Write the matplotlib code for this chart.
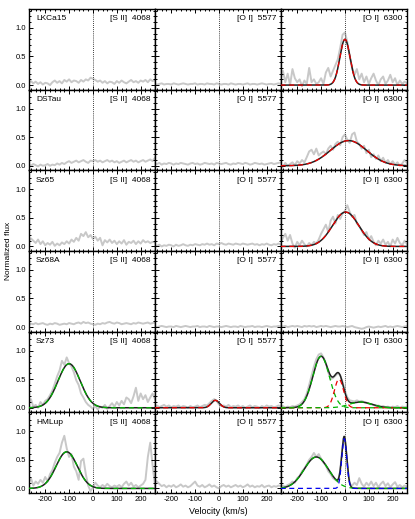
import matplotlib
import matplotlib.pyplot as plt
import numpy as np
from matplotlib.ticker import FormatStrFormatter, MultipleLocator

matplotlib.use("Agg")

plt.rcParams["font.family"] = ["Liberation Sans", "DejaVu Sans"]
plt.rcParams["axes.unicode_minus"] = False

stars = ["LKCa15", "DSTau", "Sz65", "Sz68A", "Sz73", "HMLup"]
lines = ["[S II]  4068", "[O I]  5577", "[O I]  6300"]
velocity = np.arange(-270, 261, 10)  # km/s, sampling of the grey spectra

# grey spectra (normalized flux), one list per star and line
lkca15_s2 = [0.04, 0.07, 0.03, 0.06, 0.02, 0.05, 0.01, 0.04, 0.03, 0.00,
             0.05, 0.08, 0.04, 0.07, 0.03, 0.09, 0.06, 0.10, 0.05, 0.08,
             0.07, 0.04, 0.09, 0.06, 0.10, 0.08, 0.13, 0.11, 0.09, 0.06,
             0.08, 0.04, 0.07, 0.03, 0.06, 0.05, 0.02, 0.07, 0.04, 0.08,
             0.05, 0.03, 0.06, 0.09, 0.05, 0.07, 0.04, 0.08, 0.06, 0.09,
             0.05, 0.10, 0.07, 0.09]
lkca15_o5577 = [0.02, 0.01, 0.02, 0.03, 0.01, 0.02, 0.02, 0.01, 0.03, 0.02,
                0.01, 0.02, 0.03, 0.02, 0.01, 0.02, 0.02, 0.03, 0.01, 0.02,
                0.02, 0.01, 0.03, 0.02, 0.02, 0.01, 0.03, 0.02, 0.01, 0.02,
                0.02, 0.01, 0.03, 0.02, 0.01, 0.02, 0.02, 0.01, 0.02, 0.03,
                0.01, 0.02, 0.02, 0.01, 0.02, 0.03, 0.02, 0.01, 0.02, 0.02,
                0.01, 0.02, 0.03, 0.02]
lkca15_o6300 = [0.10, 0.25, 0.05, 0.20, 0.00, 0.28, 0.12, 0.05, 0.10, -0.02,
                0.08, 0.02, 0.30, 0.05, 0.10, 0.02, 0.05, 0.12, 0.02, 0.22,
                0.30, 0.15, 0.25, 0.35, 0.45, 0.65, 0.88, 0.92, 0.75, 0.50,
                0.30, 0.18, 0.28, 0.10, 0.20, 0.05, 0.15, 0.02, 0.12, 0.20,
                0.08, 0.00, 0.10, 0.15, 0.02, 0.08, 0.18, 0.05, 0.12, 0.00,
                0.08, 0.02, 0.06, 0.03]

dstau_s2 = [0.02, 0.00, 0.03, 0.01, -0.01, 0.02, 0.00, 0.01, 0.03, 0.00,
            0.02, 0.01, 0.04, 0.02, 0.05, 0.03, 0.06, 0.08, 0.05, 0.07,
            0.09, 0.06, 0.08, 0.10, 0.07, 0.05, 0.09, 0.08, 0.10, 0.07,
            0.09, 0.06, 0.08, 0.10, 0.07, 0.09, 0.06, 0.08, 0.05, 0.07,
            0.09, 0.06, 0.08, 0.10, 0.07, 0.09, 0.06, 0.08, 0.10, 0.07,
            0.09, 0.11, 0.08, 0.14]
dstau_o5577 = [0.04, 0.03, 0.05, 0.02, 0.04, 0.03, 0.05, 0.04, 0.02, 0.04,
               0.03, 0.05, 0.04, 0.03, 0.02, 0.04, 0.05, 0.03, 0.04, 0.02,
               0.03, 0.05, 0.04, 0.03, 0.04, 0.02, 0.05, 0.04, 0.03, 0.04,
               0.05, 0.03, 0.02, 0.04, 0.03, 0.05, 0.04, 0.03, 0.05, 0.04,
               0.02, 0.03, 0.05, 0.04, 0.03, 0.04, 0.02, 0.03, 0.04, 0.05,
               0.03, 0.04, 0.05, 0.06]
dstau_o6300 = [0.02, -0.02, 0.05, 0.00, 0.03, 0.06, 0.01, 0.08, 0.04, 0.10,
               0.06, 0.15, 0.25, 0.28, 0.20, 0.30, 0.18, 0.22, 0.25, 0.20,
               0.30, 0.35, 0.28, 0.38, 0.42, 0.36, 0.50, 0.55, 0.45, 0.40,
               0.55, 0.58, 0.42, 0.38, 0.30, 0.35, 0.22, 0.28, 0.15, 0.20,
               0.12, 0.18, 0.08, 0.14, 0.05, 0.10, 0.03, 0.08, 0.02, 0.06,
               0.00, 0.04, 0.10, 0.05]

sz65_s2 = [0.08, 0.14, 0.10, 0.06, 0.12, 0.04, 0.09, 0.02, 0.06, 0.03,
           0.08, 0.01, 0.05, 0.02, 0.07, 0.04, 0.09, 0.05, 0.12, 0.08,
           0.15, 0.10, 0.22, 0.18, 0.25, 0.16, 0.20, 0.13, 0.17, 0.10,
           0.15, 0.02, 0.11, 0.07, 0.12, 0.06, 0.10, 0.04, 0.09, 0.05,
           0.11, 0.03, 0.08, 0.06, 0.10, 0.04, 0.09, 0.05, 0.11, 0.07,
           0.09, 0.06, 0.08, 0.07]
sz65_o5577 = [0.02, 0.01, 0.03, 0.00, 0.02, 0.01, 0.03, 0.02, 0.00, 0.03,
              0.01, 0.02, 0.04, 0.02, 0.01, 0.03, 0.02, 0.04, 0.03, 0.02,
              0.04, 0.03, 0.05, 0.03, 0.04, 0.02, 0.05, 0.04, 0.06, 0.04,
              0.03, 0.05, 0.04, 0.03, 0.05, 0.04, 0.03, 0.05, 0.04, 0.03,
              0.04, 0.05, 0.03, 0.04, 0.02, 0.04, 0.03, 0.05, 0.03, 0.02,
              0.04, 0.03, 0.05, 0.03]
sz65_o6300 = [0.05, 0.15, 0.22, 0.10, 0.20, 0.05, -0.02, 0.08, 0.02, 0.10,
              0.04, 0.00, 0.06, 0.02, 0.08, 0.05, 0.12, 0.22, 0.30, 0.38,
              0.25, 0.45, 0.52, 0.40, 0.55, 0.48, 0.58, 0.62, 0.72, 0.60,
              0.52, 0.55, 0.40, 0.35, 0.28, 0.20, 0.25, 0.12, 0.18, 0.08,
              0.02, 0.10, 0.05, 0.12, 0.03, 0.08, 0.00, 0.12, 0.05, 0.15,
              0.06, 0.02, 0.10, 0.04]

sz68a_s2 = [0.04, 0.06, 0.05, 0.07, 0.05, 0.06, 0.07, 0.05, 0.04, 0.06,
            0.05, 0.07, 0.06, 0.04, 0.05, 0.06, 0.05, 0.07, 0.06, 0.05,
            0.07, 0.08, 0.06, 0.09, 0.07, 0.08, 0.06, 0.05, 0.04, 0.06,
            0.05, 0.07, 0.06, 0.08, 0.09, 0.07, 0.06, 0.08, 0.07, 0.05,
            0.06, 0.07, 0.06, 0.05, 0.07, 0.06, 0.08, 0.07, 0.06, 0.07,
            0.08, 0.06, 0.07, 0.08]
sz68a_o5577 = [0.01, 0.00, 0.01, 0.02, 0.01, 0.00, 0.01, 0.01, 0.00, 0.02,
               0.01, 0.00, 0.01, 0.02, 0.01, 0.00, 0.01, 0.01, 0.02, 0.00,
               0.01, 0.01, 0.00, 0.02, 0.01, 0.00, 0.01, 0.01, 0.00, 0.01,
               0.02, 0.01, 0.00, 0.01, 0.01, 0.00, 0.02, 0.01, 0.00, 0.01,
               0.01, 0.02, 0.00, 0.01, 0.01, 0.00, 0.01, 0.02, 0.01, 0.00,
               0.01, 0.01, 0.02, 0.01]
sz68a_o6300 = [0.02, 0.01, 0.02, 0.00, 0.01, 0.02, 0.01, 0.02, 0.01, 0.00,
               0.02, 0.01, 0.02, 0.01, 0.02, 0.00, 0.01, 0.02, 0.01, 0.02,
               0.01, 0.00, 0.01, 0.02, 0.01, 0.01, 0.02, 0.01, 0.00, 0.01,
               0.02, 0.00, -0.01, -0.02, -0.03, -0.02, 0.00, 0.01, 0.00, -0.01,
               0.00, 0.01, 0.00, 0.01, 0.02, 0.00, 0.01, 0.00, 0.01, 0.02,
               0.01, 0.00, 0.01, 0.02]

sz73_s2 = [0.08, 0.15, 0.02, 0.05, 0.00, 0.10, 0.05, 0.12, 0.15, 0.22,
           0.30, 0.42, 0.55, 0.65, 0.82, 0.75, 0.88, 0.78, 0.72, 0.62,
           0.48, 0.40, 0.25, 0.18, 0.10, 0.05, 0.02, -0.02, 0.03, -0.03,
           0.02, 0.00, 0.05, -0.02, 0.03, 0.08, 0.02, 0.10, 0.04, 0.12,
           0.06, 0.18, 0.15, 0.08, 0.20, 0.35, 0.12, 0.25, 0.15, 0.22,
           0.10, 0.18, 0.25, 0.15]
sz73_o5577 = [0.02, 0.04, 0.01, 0.03, 0.05, 0.02, 0.04, 0.01, 0.03, 0.02,
              0.04, 0.01, 0.03, 0.02, 0.00, 0.03, 0.01, 0.02, 0.04, 0.01,
              0.03, 0.05, 0.04, 0.08, 0.12, 0.15, 0.12, 0.06, 0.03, 0.04,
              0.02, 0.05, 0.01, 0.03, 0.02, 0.04, 0.01, 0.03, 0.00, 0.02,
              0.04, 0.01, 0.03, 0.02, 0.00, 0.03, 0.01, 0.04, 0.02, 0.03,
              0.01, 0.02, 0.04, 0.02]
sz73_o6300 = [0.01, 0.03, 0.00, 0.02, 0.01, 0.03, 0.02, 0.04, 0.06, 0.10,
              0.15, 0.25, 0.40, 0.56, 0.72, 0.85, 0.93, 0.95, 0.88, 0.78,
              0.62, 0.50, 0.52, 0.56, 0.60, 0.57, 0.45, 0.30, 0.18, 0.13,
              0.12, 0.11, 0.13, 0.11, 0.12, 0.10, 0.09, 0.07, 0.06, 0.05,
              0.03, 0.04, 0.02, 0.03, 0.01, 0.02, 0.00, 0.02, 0.01, 0.03,
              0.00, 0.02, 0.01, 0.02]

hmlup_s2 = [0.10, 0.18, 0.05, 0.12, 0.08, 0.15, 0.10, 0.20, 0.12, 0.25,
            0.32, 0.45, 0.55, 0.62, 0.80, 0.92, 0.70, 0.55, 0.60, 0.38,
            0.30, 0.15, 0.48, 0.52, 0.25, 0.05, -0.05, 0.02, 0.10, 0.05,
            0.02, 0.06, 0.03, 0.08, 0.04, 0.02, 0.05, 0.03, 0.06, 0.02,
            0.08, 0.12, 0.05, 0.10, 0.03, 0.06, 0.02, 0.05, 0.08, 0.15,
            0.55, 0.80, 0.40, 0.05]
hmlup_o5577 = [0.15, 0.12, 0.08, 0.04, 0.06, 0.02, 0.05, 0.03, 0.06, 0.02,
               0.04, 0.07, 0.03, 0.05, 0.02, 0.04, 0.08, 0.12, 0.05, 0.03,
               0.06, 0.02, 0.04, 0.07, 0.03, 0.05, 0.02, 0.00, 0.04, 0.06,
               0.03, 0.05, 0.02, 0.04, 0.06, 0.03, 0.05, 0.02, 0.04, 0.07,
               0.03, 0.05, 0.02, 0.04, 0.03, 0.06, 0.02, 0.04, 0.05, 0.02,
               0.04, 0.03, 0.05, 0.04]
hmlup_o6300 = [0.02, 0.05, 0.03, 0.06, 0.08, 0.12, 0.10, 0.18, 0.22, 0.30,
               0.35, 0.42, 0.50, 0.55, 0.62, 0.55, 0.60, 0.52, 0.45, 0.40,
               0.30, 0.25, 0.18, 0.15, 0.12, 0.30, 0.75, 0.85, 0.40, 0.08,
               0.05, 0.10, 0.06, 0.18, 0.08, 0.03, 0.10, 0.05, 0.12, 0.04,
               0.10, 0.02, 0.08, 0.12, 0.04, 0.09, 0.02, 0.07, 0.11, 0.03,
               0.06, 0.02, 0.05, 0.03]

# gaussian fit components: (amplitude, centre km/s, FWHM km/s, dash colour)
lkca15_o6300_fit = [(0.80, 0, 50, "red")]
dstau_o6300_fit = [(0.44, 15, 180, "red")]
sz65_o6300_fit = [(0.60, 3, 130, "red")]
sz73_s2_fit = [(0.77, -100, 110, "green")]
sz73_o5577_fit = [(0.13, -15, 40, "red")]
sz73_o6300_fit = [(0.90, -100, 82, "green"), (0.50, -25, 45, "red"),
                  (0.10, 65, 110, "green")]
hmlup_s2_fit = [(0.64, -110, 105, "green")]
hmlup_o6300_fit = [(0.55, -120, 120, "green"), (0.87, -3, 25, "blue")]

spectra = [
    [lkca15_s2, lkca15_o5577, lkca15_o6300],
    [dstau_s2, dstau_o5577, dstau_o6300],
    [sz65_s2, sz65_o5577, sz65_o6300],
    [sz68a_s2, sz68a_o5577, sz68a_o6300],
    [sz73_s2, sz73_o5577, sz73_o6300],
    [hmlup_s2, hmlup_o5577, hmlup_o6300],
]
fits = {
    (0, 2): lkca15_o6300_fit,
    (1, 2): dstau_o6300_fit,
    (2, 2): sz65_o6300_fit,
    (4, 0): sz73_s2_fit,
    (4, 1): sz73_o5577_fit,
    (4, 2): sz73_o6300_fit,
    (5, 0): hmlup_s2_fit,
    (5, 2): hmlup_o6300_fit,
}
dash_colors = {"red": "#ee0000", "green": "#00b400", "blue": "#0000ee"}


def gauss(v, amp, cen, fwhm):
    return amp * np.exp(-4 * np.log(2) * ((v - cen) / fwhm) ** 2)


v_fit = np.linspace(-270, 260, 800)

fig, axes = plt.subplots(6, 3, figsize=(4.15, 5.19), dpi=100, sharex=True, sharey=True)
fig.subplots_adjust(left=29 / 415, right=407 / 415, top=1 - 9 / 519,
                    bottom=1 - 493 / 519, hspace=0, wspace=0)

for i, star in enumerate(stars):
    for j, line in enumerate(lines):
        ax = axes[i, j]
        ax.plot(velocity, spectra[i][j], color="#c8c8c8", lw=1.4, zorder=1)
        ax.axvline(0, color="black", ls=(0, (1, 1.5)), lw=0.6, zorder=2)

        comps = fits.get((i, j))
        if comps:
            total = sum(gauss(v_fit, a, c, w) for a, c, w, _ in comps)
            ax.plot(v_fit, total, color="#202020", lw=1.1, zorder=3)
            for a, c, w, col in comps:
                ax.plot(v_fit, gauss(v_fit, a, c, w), color=dash_colors[col],
                        lw=0.9, ls=(0, (4, 3)), zorder=4)

        if j == 0:
            ax.text(0.055, 0.92, star, transform=ax.transAxes,
                    ha="left", va="top", fontsize=6)
        ax.text(0.965, 0.92, line, transform=ax.transAxes,
                ha="right", va="top", fontsize=6)

        ax.set_xlim(-268, 260)
        ax.set_ylim(-0.08, 1.33)
        ax.xaxis.set_major_locator(MultipleLocator(100))
        ax.xaxis.set_minor_locator(MultipleLocator(20))
        ax.yaxis.set_major_locator(MultipleLocator(0.5))
        ax.yaxis.set_minor_locator(MultipleLocator(0.1))
        ax.yaxis.set_major_formatter(FormatStrFormatter("%.1f"))
        ax.tick_params(which="both", direction="in", top=True, right=True,
                       width=0.7, labelsize=5.5, pad=2)
        ax.tick_params(which="major", length=3)
        ax.tick_params(which="minor", length=1.5)
        for sp in ax.spines.values():
            sp.set_linewidth(1.0)

fig.text(8 / 415, 1 - 251 / 519, "Normalized flux", rotation=90,
         ha="center", va="center", fontsize=6)
fig.text(218 / 415, 1 - 512 / 519, "Velocity (km/s)",
         ha="center", va="center", fontsize=6.5)

fig.savefig("out.png", dpi=100)
